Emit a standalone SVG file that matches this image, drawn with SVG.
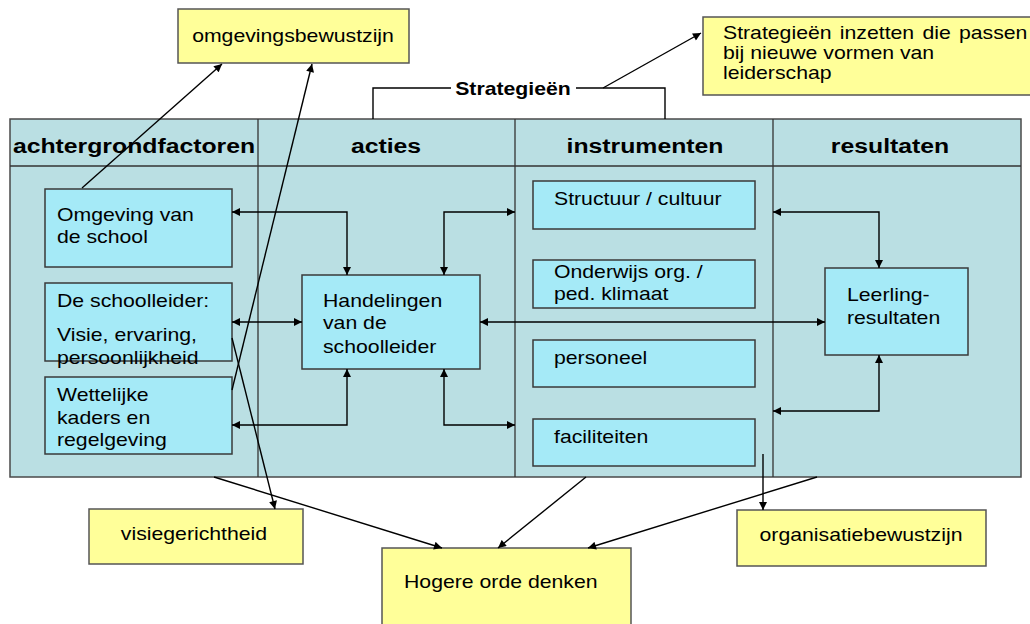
<svg xmlns="http://www.w3.org/2000/svg" width="1030" height="624" viewBox="0 0 1030 624">
<style>
.t{font-family:"Liberation Sans",Arial,sans-serif;font-size:18px;fill:#000}
.h{font-family:"Liberation Sans",Arial,sans-serif;font-size:21px;font-weight:bold;fill:#000}
.b{font-family:"Liberation Sans",Arial,sans-serif;font-size:18px;font-weight:bold;fill:#000}
.tbl{fill:#BADFE3;stroke:#4a4a4a;stroke-width:1.5}
.div{fill:none;stroke:#333;stroke-width:1.3}
.box{fill:#A5EAF7;stroke:#3a3a3a;stroke-width:1.5}
.yel{fill:#FFFF99;stroke:#555;stroke-width:1.5}
.c{fill:none;stroke:#000;stroke-width:1.4}
.e{marker-end:url(#ah)}
.d{marker-start:url(#ah);marker-end:url(#ah)}
</style>
<defs>
<marker id="ah" viewBox="0 0 10 10" refX="10" refY="5" markerWidth="9" markerHeight="8" markerUnits="userSpaceOnUse" orient="auto-start-reverse">
<path d="M0,0 L10,5 L0,10 z" fill="#000"/>
</marker>
</defs>

<g id="table">
<rect class="tbl" x="10" y="119" width="1011" height="358"/>
<line class="div" x1="10" y1="166" x2="1021" y2="166"/>
<line class="div" x1="258" y1="119" x2="258" y2="477"/>
<line class="div" x1="515" y1="119" x2="515" y2="477"/>
<line class="div" x1="773" y1="119" x2="773" y2="477"/>
<text class="h" text-anchor="middle" transform="translate(134 153) scale(1.18 1)">achtergrondfactoren</text>
<text class="h" text-anchor="middle" transform="translate(386 153) scale(1.18 1)">acties</text>
<text class="h" text-anchor="middle" transform="translate(645 153) scale(1.18 1)">instrumenten</text>
<text class="h" text-anchor="middle" transform="translate(890 153) scale(1.18 1)">resultaten</text>
</g>

<g id="omgeving">
<rect class="box" x="45" y="189" width="187" height="78"/>
<text class="t" transform="translate(57 0) scale(1.18 1)"><tspan x="0" y="221">Omgeving van</tspan><tspan x="0" y="243">de school</tspan></text>
</g>
<g id="schoolleider">
<rect class="box" x="45" y="283" width="187" height="78"/>
<text class="t" transform="translate(57 0) scale(1.18 1)"><tspan x="0" y="307">De schoolleider:</tspan><tspan x="0" y="341">Visie, ervaring,</tspan><tspan x="0" y="364">persoonlijkheid</tspan></text>
</g>
<g id="wettelijke">
<rect class="box" x="45" y="377" width="187" height="77"/>
<text class="t" transform="translate(57 0) scale(1.18 1)"><tspan x="0" y="401">Wettelijke</tspan><tspan x="0" y="424">kaders en</tspan><tspan x="0" y="446">regelgeving</tspan></text>
</g>
<g id="handelingen">
<rect class="box" x="302" y="275" width="178" height="94"/>
<text class="t" transform="translate(323 0) scale(1.18 1)"><tspan x="0" y="307">Handelingen</tspan><tspan x="0" y="329">van de</tspan><tspan x="0" y="353">schoolleider</tspan></text>
</g>
<g id="structuur">
<rect class="box" x="533" y="181" width="222" height="48"/>
<text class="t" transform="translate(554 205) scale(1.18 1)">Structuur / cultuur</text>
</g>
<g id="onderwijs">
<rect class="box" x="533" y="260" width="222" height="48"/>
<text class="t" transform="translate(554 0) scale(1.18 1)"><tspan x="0" y="278">Onderwijs org. /</tspan><tspan x="0" y="300">ped. klimaat</tspan></text>
</g>
<g id="personeel">
<rect class="box" x="533" y="340" width="222" height="47"/>
<text class="t" transform="translate(554 364) scale(1.18 1)">personeel</text>
</g>
<g id="faciliteiten">
<rect class="box" x="533" y="419" width="222" height="47"/>
<text class="t" transform="translate(554 443) scale(1.18 1)">faciliteiten</text>
</g>
<g id="leerling">
<rect class="box" x="825" y="268" width="143" height="87"/>
<text class="t" transform="translate(847 0) scale(1.18 1)"><tspan x="0" y="301">Leerling-</tspan><tspan x="0" y="324">resultaten</tspan></text>
</g>

<g id="omgevingsbewustzijn">
<rect class="yel" x="178" y="9" width="231" height="54"/>
<text class="t" text-anchor="middle" transform="translate(293 42) scale(1.18 1)">omgevingsbewustzijn</text>
</g>
<g id="strategieen-box">
<rect class="yel" x="703" y="17" width="340" height="78"/>
<text class="t" transform="translate(723 0) scale(1.18 1)"><tspan x="0" y="39" word-spacing="2">Strategieën inzetten die passen</tspan><tspan x="0" y="59">bij nieuwe vormen van</tspan><tspan x="0" y="79">leiderschap</tspan></text>
</g>
<g id="visiegerichtheid">
<rect class="yel" x="89" y="509" width="214" height="55"/>
<text class="t" text-anchor="middle" transform="translate(194 540) scale(1.18 1)">visiegerichtheid</text>
</g>
<g id="hogere">
<rect class="yel" x="382" y="548" width="249" height="90"/>
<text class="t" transform="translate(404 588) scale(1.18 1)">Hogere orde denken</text>
</g>
<g id="organisatiebewustzijn">
<rect class="yel" x="737" y="510" width="249" height="56"/>
<text class="t" text-anchor="middle" transform="translate(861 541) scale(1.18 1)">organisatiebewustzijn</text>
</g>

<g id="strategieen-label">
<text class="b" text-anchor="middle" transform="translate(513 95) scale(1.18 1)">Strategieën</text>
</g>

<g id="connectors">
<path class="c" d="M373,119 V88 H451"/>
<path class="c" d="M576,88 H665 V119"/>
<path class="c e" d="M603,88 L701,33"/>
<path class="c d" d="M232,212 H347 V275"/>
<path class="c d" d="M515,212 H444 V275"/>
<path class="c d" d="M232,322 H302"/>
<path class="c d" d="M480,322 H825"/>
<path class="c d" d="M232,425 H347 V369"/>
<path class="c d" d="M444,369 V425 H515"/>
<path class="c d" d="M773,212 H879 V268"/>
<path class="c d" d="M773,411 H879 V355"/>
<path class="c e" d="M82,188 L222,64"/>
<path class="c e" d="M232,390 L312,64"/>
<path class="c e" d="M232,338 L275,509"/>
<path class="c e" d="M214,477 L442,548"/>
<path class="c e" d="M586,477 L498,548"/>
<path class="c e" d="M817,477 L588,548"/>
<path class="c e" d="M763,454 V510"/>
</g>
</svg>
